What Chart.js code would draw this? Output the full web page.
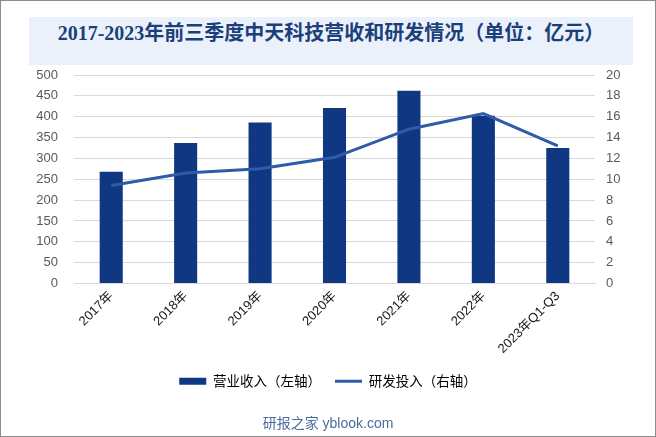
<!DOCTYPE html>
<html>
<head>
<meta charset="utf-8">
<script src="https://cdn.jsdelivr.net/npm/chart.js@4"></script>
<style>
  html, body { margin: 0; padding: 0; background: #fff; }
  #wrap { position: relative; width: 656px; height: 437px; overflow: hidden; }
  #chart { position: absolute; left: 0; top: 0; }
  #frame { position: absolute; left: 0; top: 0; width: 656px; height: 437px; box-sizing: border-box; border: 1px solid #8c8c8c; pointer-events: none; }
  #title {
    position: absolute; left: 29px; top: 17px; width: 604px; height: 48px;
    background: #eaf1fb; color: #1b3f7a; text-align: center; line-height: 48px;
    font: bold 20px "Liberation Serif", "Noto Sans CJK SC", serif;
  }
  #source {
    position: absolute; left: 0; width: 656px; top: 412px; text-align: center;
    font: 14px "Liberation Sans", "Noto Sans CJK SC", sans-serif; color: #4a6d9c;
  }
</style>
</head>
<body>
<div id="wrap">
  <canvas id="chart" width="656" height="437"></canvas>
  <div id="title">2017-2023年前三季度中天科技营收和研发情况（单位：亿元）</div>
  <div id="source">研报之家 yblook.com</div>
  <div id="frame"></div>
</div>
<script>
// categorias e valores
const categories = ['2017年', '2018年', '2019年', '2020年', '2021年', '2022年', '2023年Q1-Q3'];
const revenue = [268, 337, 386, 421, 462, 402, 325];      // 营业收入（左轴）
const rdSpend = [9.4, 10.6, 11.0, 12.1, 14.8, 16.3, 13.2]; // 研发投入（右轴）
const leftTicks = { min: 0, max: 500, step: 50 };
const rightTicks = { min: 0, max: 20, step: 2 };

const ctx = document.getElementById('chart').getContext('2d');

const chart = new Chart(ctx, {
  type: 'bar',
  data: {
    labels: categories,
    datasets: [
      {
        label: '营业收入（左轴）',
        data: revenue,
        backgroundColor: '#0f3782',
        borderWidth: 0,
        barPercentage: 0.31,
        categoryPercentage: 1,
        yAxisID: 'y',
        order: 1
      },
      {
        type: 'line',
        label: '研发投入（右轴）',
        data: rdSpend,
        borderColor: '#2f5ba8',
        backgroundColor: '#2f5ba8',
        borderWidth: 3,
        pointRadius: 0,
        tension: 0,
        yAxisID: 'y1',
        order: 0
      }
    ]
  },
  options: {
    responsive: false,
    animation: false,
    layout: { padding: { top: 75, bottom: 39, left: 0, right: 0 } },
    plugins: {
      tooltip: { enabled: false },
      legend: {
        position: 'bottom',
        labels: {
          usePointStyle: true,
          pointStyleWidth: 27,
          boxHeight: 7,
          padding: 14,
          color: '#000',
          font: { family: '"Noto Sans CJK SC", sans-serif', size: 13.5 },
          sort: (a, b) => a.datasetIndex - b.datasetIndex,
          generateLabels: (c) => Chart.defaults.plugins.legend.labels.generateLabels(c).map(l => {
            l.pointStyle = l.datasetIndex === 0 ? 'rect' : 'line';
            return l;
          })
        }
      }
    },
    scales: {
      x: {
        grid: { display: false, drawTicks: false },
        border: { display: true, color: '#d9d9d9' },
        ticks: {
          minRotation: 45, maxRotation: 45, padding: 5,
          color: '#1a1a1a',
          font: { family: '"Liberation Sans", "Noto Sans CJK SC", sans-serif', size: 13 }
        },
        afterFit: s => { s.height = 77; }
      },
      y: {
        position: 'left',
        min: leftTicks.min, max: leftTicks.max,
        grid: { color: '#d9d9d9', drawTicks: false },
        border: { display: false },
        ticks: {
          stepSize: leftTicks.step, padding: 16, color: '#595959',
          font: { family: '"Liberation Sans", sans-serif', size: 13 }
        },
        afterFit: s => { s.width = 74; }
      },
      y1: {
        position: 'right',
        min: rightTicks.min, max: rightTicks.max,
        grid: { display: false, drawTicks: false },
        border: { display: false },
        ticks: {
          stepSize: rightTicks.step, padding: 11, color: '#595959',
          font: { family: '"Liberation Sans", sans-serif', size: 13 }
        },
        afterFit: s => { s.width = 61; }
      }
    }
  }
});
</script>
</body>
</html>
